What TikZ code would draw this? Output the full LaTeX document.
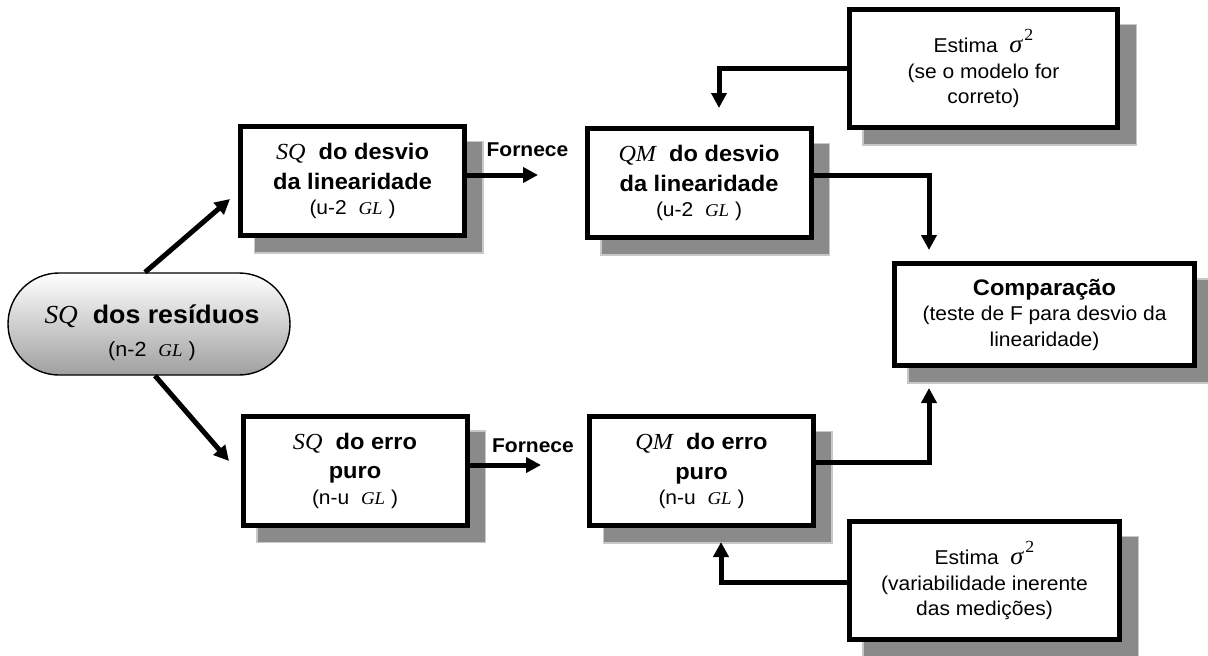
\documentclass[tikz,border=0pt]{standalone}
\usepackage{fontspec}
\setmainfont[FakeStretch=1.05]{Liberation Sans}
\newfontfamily\tms[FakeStretch=1.05]{Liberation Serif}
\usetikzlibrary{arrows.meta,shadows}
\definecolor{shadowgray}{RGB}{138,138,138}
\definecolor{shadowedge}{RGB}{200,200,200}
\newcommand\itm[1]{{\tms\itshape\mdseries #1}}
\newcommand\hdf{\bfseries\fontsize{22.5}{26}\selectfont}
\newcommand\rgfont{\fontsize{20}{25.5}\selectfont}
\newcommand\glf{\itm{\fontsize{18}{20}\selectfont GL}}
\newcommand\sqf[1]{\itm{\fontsize{23}{26}\selectfont #1}}
\newcommand\sigf{\itm{\fontsize{25}{26}\selectfont σ}\kern2pt\raisebox{12pt}{\tms\fontsize{17}{18}\selectfont 2}}
\tikzset{
  box/.style={draw, line width=5pt, fill=white, inner sep=0pt, align=center,
    font=\rgfont,
    drop shadow={shadow xshift=16pt, shadow yshift=-16pt, fill=shadowgray,
      draw=shadowedge, line width=1.5pt, opacity=1, shadow scale=1.02}},
  smallbox/.style={box, minimum width=224pt, minimum height=109pt},
  arr/.style={line width=5pt, -{Triangle[length=15pt,width=15pt]}},
  lbl/.style={font=\bfseries\fontsize{20}{22}\selectfont, inner sep=0pt}
}
\begin{document}
\begin{tikzpicture}[x=1pt,y=-1pt]
\useasboundingbox (0,0) rectangle (1208,656);

% pill
\node[draw, line width=1.4pt, rounded corners=51pt, minimum width=282pt, minimum height=102pt,
  top color=white, bottom color=gray!75, inner sep=0pt] (pill) at (149,324) {};
\node[align=center, inner sep=0pt, font=\fontsize{20.5}{33}\selectfont] (pillt) at (152,333)
  {{\bfseries\fontsize{25.5}{28}\selectfont\itm{\fontsize{26}{28}\selectfont SQ}\ \ dos resíduos}\\ (n-2 \ \glf\ )};

% boxes
\node[smallbox] (A) at (352.5,181) {{\hdf\sqf{SQ}\ \ do desvio}\\[4pt]{\hdf da linearidade}\\(u-2 \ \glf\ )};
\node[smallbox] (B) at (699,183) {{\hdf\sqf{QM}\ \ do desvio}\\[4pt]{\hdf da linearidade}\\(u-2 \ \glf\ )};
\node[smallbox] (C) at (355,470.5) {{\hdf\sqf{SQ}\ \ do erro}\\[4pt]{\hdf puro}\\(n-u \ \glf\ )};
\node[smallbox] (D) at (701.5,471) {{\hdf\sqf{QM}\ \ do erro}\\[4pt]{\hdf puro}\\(n-u \ \glf\ )};
\node[box, minimum width=268pt, minimum height=118pt] (E) at (983.5,68.5)
  {Estima \ \sigf\\(se o modelo for\\correto)};
\node[box, minimum width=300pt, minimum height=102pt] (F) at (1044.5,314.5)
  {{\hdf Comparação}\\(teste de F para desvio da\\linearidade)};
\node[box, minimum width=270pt, minimum height=118pt] (G) at (984.5,580.5)
  {Estima \ \sigf\\(variabilidade inerente\\das medições)};

% labels
\node[lbl] (f1) at (527.5,150) {Fornece};
\node[lbl] (f2) at (533,446) {Fornece};

% arrow targets
\coordinate (tPA) at (230,199);
\coordinate (tPC) at (229,461);
\coordinate (tAB) at (538,175);
\coordinate (tCD) at (541,465);
\coordinate (tEB) at (719,108);
\coordinate (tBF) at (929,250);
\coordinate (tDF) at (929,388);
\coordinate (tGD) at (721,542);

% connectors
\draw[arr] ([xshift=-4pt]pill.north) -- (tPA);
\draw[arr] ([xshift=6pt]pill.south) -- (tPC);
\draw[arr] ([yshift=6pt]A.east) -- (tAB);
\draw[arr] ([yshift=5.5pt]C.east) -- (tCD);
\draw[arr] (E.west) -| (tEB);
\draw[arr] ([yshift=8pt]B.east) -| (tBF);
\draw[arr] ([yshift=9pt]D.east) -| (tDF);
\draw[arr] ([yshift=-1.5pt]G.west) -| (tGD);
\end{tikzpicture}
\end{document}
